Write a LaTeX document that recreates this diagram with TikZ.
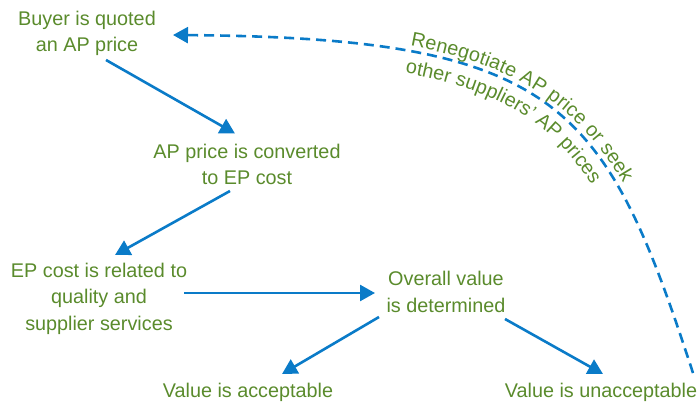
\documentclass[tikz,border=0pt]{standalone}
\usepackage{fontspec}
\setmainfont{Liberation Sans}
\usetikzlibrary{arrows.meta,decorations.text}
\definecolor{txtgreen}{HTML}{5A8B2C}
\definecolor{arrblue}{HTML}{0A7BC8}
\begin{document}
\begin{tikzpicture}[x=1pt,y=1pt,
  lbl/.style={text=txtgreen, align=center, inner sep=0pt, anchor=base,
    font=\fontsize{19.8}{26.5}\selectfont},
  conn/.style={draw=arrblue, line width=2.6pt,
    -{Triangle[length=15pt,width=16pt]}},
  back/.style={conn, dash pattern=on 10pt off 6pt}]
\useasboundingbox (0,0) rectangle (700,-403);
\node[lbl] (buyer) at (87,-52) {Buyer is quoted\\an AP price};
\node[lbl] (conv) at (247,-185) {AP price is converted\\to EP cost};
\node[lbl] (ep) at (99,-330) {EP cost is related to\\quality and\\supplier services};
\node[lbl] (overall) at (446,-312) {Overall value\\is determined};
\node[lbl] (acc) at (248,-397) {Value is acceptable};
\node[lbl] (unacc) at (601,-397) {Value is unacceptable};
\draw[conn] ([shift={(19,-8)}]buyer.base) -- ([shift={(-12,51.5)}]conv.base);
\draw[conn] ([shift={(-17,-6)}]conv.base) -- ([shift={(16,75)}]ep.base);
\draw[conn] ([shift={(85,37)}]ep.base) -- ([shift={(-71,19)}]overall.base);
\draw[conn] ([shift={(-67,-5)}]overall.base) -- ([shift={(34,23)}]acc.base);
\draw[conn] ([shift={(59,-7)}]overall.base) -- ([shift={(2,23)}]unacc.base);
\draw[back] ([shift={(92,24)}]unacc.base) .. controls (605,-103) and (560,-38) .. ([shift={(86,17)}]buyer.base);
\path[decorate, decoration={text along path, text color=txtgreen, raise=6pt,
   text align={left indent=237pt},
   text={|\fontsize{19.8}{24}\selectfont|Renegotiate AP price or seek}}]
   (173,-35) .. controls (560,-38) and (605,-103) .. (693,-373);
\path[decorate, decoration={text along path, text color=txtgreen,
   text align={left indent=233pt},
   text={|\fontsize{19.8}{24}\selectfont|other suppliers’ AP prices}}]
   (173,-57.5) .. controls (548,-60.4) and (584.6,-113) .. (671.6,-380);
\end{tikzpicture}
\end{document}
